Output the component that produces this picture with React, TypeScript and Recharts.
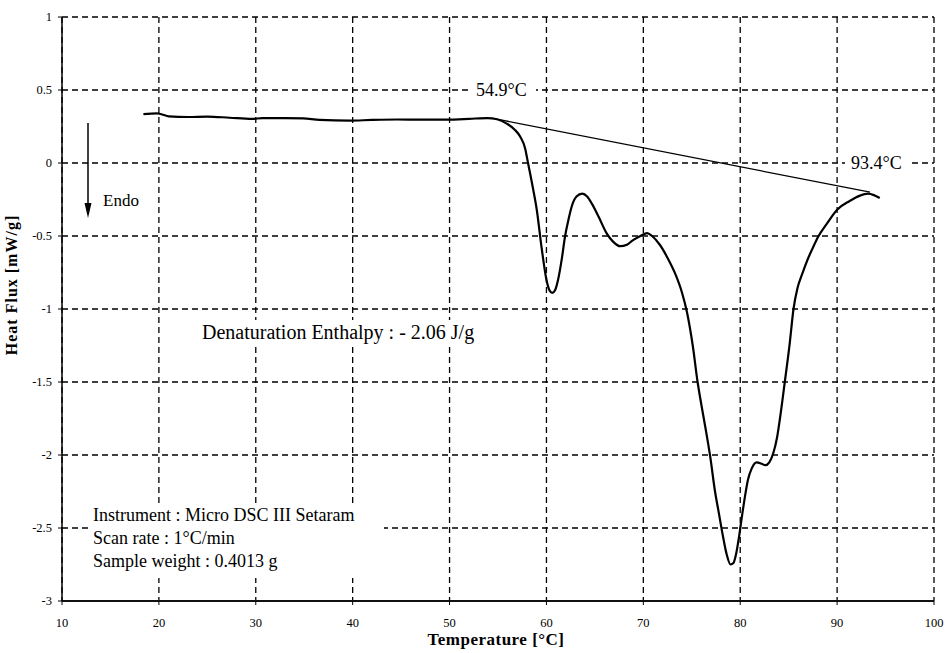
import React from 'react';
import { LineChart, Line, XAxis, YAxis, CartesianGrid } from 'recharts';

// temperature (°C) and heat flux (mW/g)
const temps = [
  18.4, 19.8, 21.0, 23.0, 25.0, 27.3, 29.6, 30.7, 33.0, 34.9, 36.6, 39.7, 42.0, 44.6, 47.0, 49.7,
  52.0, 53.9, 54.9, 55.9, 56.7, 57.3, 57.8, 58.1, 58.6, 59.0, 59.5, 60.0, 60.3, 60.6, 60.9, 61.2,
  61.6, 61.9, 62.3, 62.6, 63.1, 63.7, 64.2, 64.7, 65.4, 66.2, 66.9, 67.6, 68.3, 68.9, 69.7, 70.4,
  70.9, 71.7, 72.5, 73.3, 74.0, 74.5, 75.1, 75.6, 76.0, 76.4, 76.9, 77.4, 77.8, 78.2, 78.6, 79.0,
  79.3, 79.6, 79.9, 80.2, 80.5, 80.8, 81.2, 81.7, 82.2, 82.6, 83.0, 83.4, 83.8, 84.1, 84.6, 85.1,
  85.5, 85.9, 86.4, 86.9, 87.5, 88.0, 89.0, 90.0, 91.3, 92.3, 93.2, 93.8, 94.4,
];
const heatFlux = [
  0.335, 0.34, 0.32, 0.315, 0.318, 0.31, 0.302, 0.308, 0.308, 0.305, 0.295, 0.29, 0.295, 0.298, 0.297, 0.297,
  0.302, 0.308, 0.3, 0.27, 0.23, 0.18, 0.1, 0.0, -0.17, -0.32, -0.58, -0.8, -0.87, -0.89, -0.87, -0.8,
  -0.65, -0.51, -0.38, -0.3, -0.23, -0.21, -0.23, -0.28, -0.37, -0.48, -0.54, -0.57, -0.56, -0.53, -0.5, -0.48,
  -0.5, -0.56, -0.65, -0.76, -0.89, -1.02, -1.25, -1.5, -1.66, -1.81, -2.01, -2.25, -2.4, -2.55, -2.68, -2.75,
  -2.74, -2.67, -2.55, -2.41, -2.28, -2.17, -2.09, -2.05, -2.06, -2.07, -2.05, -1.99, -1.88, -1.75, -1.5, -1.24,
  -1.0, -0.86, -0.76, -0.67, -0.58, -0.51, -0.41, -0.32, -0.26, -0.225, -0.21, -0.22, -0.24,
];

// integration baseline between onset and end temperatures
const baseTemps = [54.9, 93.4];
const baseFlux = [0.3, -0.2];

const xTicks = [10, 20, 30, 40, 50, 60, 70, 80, 90, 100];
const yTicks = [1, 0.5, 0, -0.5, -1, -1.5, -2, -2.5, -3];

const curve = temps.map((t, i) => ({ T: t, hf: heatFlux[i] }));
const baseline = baseTemps.map((t, i) => ({ T: t, base: baseFlux[i] }));

const serif = "'Liberation Serif', 'DejaVu Serif', serif";
const tickStyle = { fill: '#000', fontSize: 12.5, fontFamily: serif };

export default function App() {
  return (
    <div style={{ position: 'absolute', left: 0, top: 0, width: 948, height: 653, background: '#fff', fontFamily: serif }}>
      <LineChart width={948} height={653} margin={{ top: 17, right: 14, left: 0, bottom: 0 }} style={{ fontFamily: serif }}>
        <CartesianGrid stroke="#000" strokeDasharray="6 4" strokeWidth={1.3} />
        <XAxis
          type="number"
          dataKey="T"
          domain={[10, 100]}
          ticks={xTicks}
          allowDataOverflow
          height={52}
          tick={tickStyle}
          tickSize={4}
          tickMargin={13}
          axisLine={{ stroke: '#111', strokeWidth: 2 }}
          tickLine={{ stroke: '#000' }}
        />
        <YAxis
          type="number"
          domain={[-3, 1]}
          ticks={yTicks}
          allowDataOverflow
          width={62}
          tick={tickStyle}
          tickSize={4}
          tickMargin={6}
          axisLine={{ stroke: '#000', strokeWidth: 1.5 }}
          tickLine={{ stroke: '#000' }}
        />
        <Line
          data={baseline}
          dataKey="base"
          type="linear"
          stroke="#000"
          strokeWidth={1.3}
          dot={false}
          isAnimationActive={false}
        />
        <Line
          data={curve}
          dataKey="hf"
          type="monotone"
          stroke="#000"
          strokeWidth={2.2}
          dot={false}
          isAnimationActive={false}
        />
      </LineChart>

      {/* annotations */}
      <svg
        width={948}
        height={653}
        style={{ position: 'absolute', left: 0, top: 0, pointerEvents: 'none', fontFamily: serif }}
      >
        <rect x={470} y={79} width={66} height={20} fill="#fff" />
        <text x={476} y={96} fontSize={18}>54.9°C</text>
        <rect x={845} y={152} width={66} height={20} fill="#fff" />
        <text x={851} y={169} fontSize={18}>93.4°C</text>

        <line x1={88} y1={123} x2={88} y2={205} stroke="#000" strokeWidth={1.5} />
        <polygon points="88,218 84.5,203 91.5,203" fill="#000" />
        <text x={103} y={206} fontSize={17}>Endo</text>

        <rect x={198} y={320} width={284} height={26} fill="#fff" />
        <text x={202} y={339} fontSize={20}>Denaturation Enthalpy : - 2.06 J/g</text>

        <rect x={90} y={503} width={294} height={75} fill="#fff" />
        <text x={93} y={521} fontSize={18}>Instrument : Micro DSC III Setaram</text>
        <text x={93} y={544} fontSize={18}>Scan rate : 1°C/min</text>
        <text x={93} y={567} fontSize={18}>Sample weight : 0.4013 g</text>

        <text x={496} y={645} fontSize={17} fontWeight="bold" textAnchor="middle" letterSpacing={0.5}>
          Temperature [°C]
        </text>
        <text
          x={17}
          y={285}
          fontSize={16}
          fontWeight="bold"
          textAnchor="middle"
          letterSpacing={1}
          transform="rotate(-90 17 285)"
        >
          Heat Flux [mW/g]
        </text>
      </svg>
    </div>
  );
}
